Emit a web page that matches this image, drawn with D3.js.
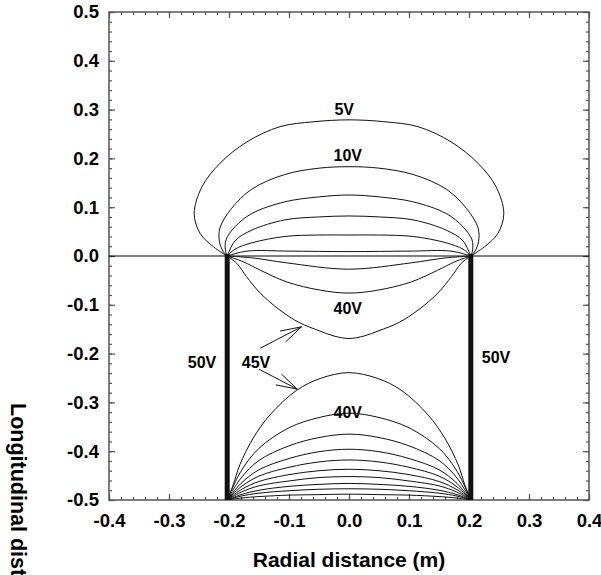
<!DOCTYPE html>
<html>
<head>
<meta charset="utf-8">
<script src="https://cdn.jsdelivr.net/npm/d3@7"></script>
<style>
    body { margin: 0; background: #fff; }
    text { font-family: "Liberation Sans", Arial, sans-serif; font-weight: bold; fill: #000; }
</style>
</head>
<body>
<div id="chart"></div>
<script>
// tick values
const xTicks = [-0.4, -0.3, -0.2, -0.1, 0.0, 0.1, 0.2, 0.3, 0.4]
const yTicks = [-0.5, -0.4, -0.3, -0.2, -0.1, 0.0, 0.1, 0.2, 0.3, 0.4, 0.5]
const minorStep = 0.02

// electrode (50V) radial position, runs from y = 0 down to y = -0.5
const electrodeX = 0.203
const electrodeTop = 0.0
const electrodeBottom = -0.5

// equipotential lines, right half only [x, y] (left half is the mirror image)
// above the electrode mouth
const upper5 = [[0, 0.279], [0.06, 0.275], [0.115, 0.265], [0.17, 0.234], [0.215, 0.19], [0.245, 0.142], [0.258, 0.087], [0.248, 0.046], [0.226, 0.019], [0.203, 0]]
const upper10 = [[0, 0.183], [0.05, 0.18], [0.107, 0.167], [0.162, 0.137], [0.196, 0.097], [0.215, 0.058], [0.216, 0.03], [0.21, 0.01], [0.203, 0]]
const upper15 = [[0, 0.125], [0.051, 0.121], [0.107, 0.111], [0.162, 0.087], [0.19, 0.06], [0.205, 0.033], [0.206, 0.012], [0.203, 0]]
const upper20 = [[0, 0.082], [0.051, 0.08], [0.107, 0.074], [0.162, 0.053], [0.19, 0.031], [0.203, 0]]
const upper25 = [[0, 0.043], [0.051, 0.043], [0.107, 0.04], [0.162, 0.027], [0.19, 0.014], [0.203, 0]]
const upper30 = [[0, 0.009], [0.1, 0.01], [0.17, 0.01], [0.203, 0]]
// inside, near the mouth
const inner35 = [[0, -0.027], [0.104, -0.014], [0.16, -0.004], [0.203, 0]]
const inner40 = [[0, -0.076], [0.048, -0.07], [0.104, -0.053], [0.148, -0.029], [0.176, -0.012], [0.203, 0]]
const inner45 = [[0, -0.169], [0.025, -0.164], [0.05, -0.153], [0.082, -0.137], [0.115, -0.111], [0.148, -0.076], [0.171, -0.042], [0.187, -0.015], [0.203, 0]]
// inside, near the bottom
const lower45 = [[0, -0.239], [0.048, -0.251], [0.087, -0.275], [0.132, -0.326], [0.16, -0.374], [0.182, -0.428], [0.193, -0.469], [0.203, -0.5]]
const lower40 = [[0, -0.322], [0.05, -0.331], [0.1, -0.352], [0.15, -0.394], [0.18, -0.441], [0.203, -0.5]]
const lower35 = [[0, -0.365], [0.05, -0.372], [0.1, -0.389], [0.15, -0.419], [0.18, -0.455], [0.203, -0.5]]
const lower30 = [[0, -0.396], [0.05, -0.401], [0.1, -0.415], [0.15, -0.438], [0.18, -0.466], [0.203, -0.5]]
const lower25 = [[0, -0.418], [0.05, -0.422], [0.1, -0.433], [0.15, -0.451], [0.18, -0.473], [0.203, -0.5]]
const lower20 = [[0, -0.437], [0.05, -0.44], [0.1, -0.448], [0.15, -0.462], [0.18, -0.479], [0.203, -0.5]]
const lower15 = [[0, -0.452], [0.05, -0.454], [0.1, -0.461], [0.15, -0.471], [0.18, -0.484], [0.203, -0.5]]
const lower10 = [[0, -0.466], [0.05, -0.468], [0.1, -0.472], [0.15, -0.48], [0.18, -0.489], [0.203, -0.5]]
const lower5 = [[0, -0.477], [0.05, -0.478], [0.1, -0.481], [0.15, -0.486], [0.18, -0.492], [0.203, -0.5]]
const lower0 = [[0, -0.488], [0.05, -0.489], [0.1, -0.49], [0.15, -0.493], [0.18, -0.496], [0.203, -0.5]]

const contours = [upper5, upper10, upper15, upper20, upper25, upper30, inner35, inner40, inner45,
    lower45, lower40, lower35, lower30, lower25, lower20, lower15, lower10, lower5, lower0]

// text labels [label, x, y]
const labels = [
    ['5V', -0.008, 0.3],
    ['10V', -0.002, 0.206],
    ['40V', -0.002, -0.107],
    ['40V', -0.002, -0.32],
    ['45V', -0.155, -0.217],
    ['50V', -0.245, -0.217],
    ['50V', 0.245, -0.207]
]

// arrows from the 45V label [fromX, fromY, toX, toY]
const arrows = [
    [-0.148, -0.189, -0.079, -0.145],
    [-0.15, -0.232, -0.086, -0.273]
]

const render = () => {
    const width = 601,
        height = 575,
        left = 109, right = 589, top = 12, bottom = 500;

    const svg = d3.select('#chart').append('svg')
        .attr('width', width)
        .attr('height', height)

    const x = d3.scaleLinear().domain([-0.4, 0.4]).range([left, right])
    const y = d3.scaleLinear().domain([-0.5, 0.5]).range([bottom, top])

    // plain hyphen for negatives, like the original
    const fmt = v => d3.format('.1f')(v).replace('\u2212', '-')
    const minorX = d3.range(-0.4, 0.4001, minorStep)
    const minorY = d3.range(-0.5, 0.5001, minorStep)

    // axes: ticks point inwards on all four sides
    const axisColor = '#555'
    const addAxis = (axis, tx, ty) => {
        const g = svg.append('g')
            .attr('transform', `translate(${tx},${ty})`)
            .call(axis)
        g.select('.domain').remove()
        g.selectAll('line').attr('stroke', axisColor).attr('stroke-width', 1.2)
        g.selectAll('text')
            .style('font-size', '18.5px')
            .style('font-family', '"Liberation Sans", Arial, sans-serif')
            .style('font-weight', 'bold')
            .attr('fill', '#000')
        return g
    }

    addAxis(d3.axisBottom(x).tickValues(minorX).tickSize(-3).tickFormat(''), 0, bottom)
    addAxis(d3.axisTop(x).tickValues(minorX).tickSize(-3).tickFormat(''), 0, top)
    addAxis(d3.axisLeft(y).tickValues(minorY).tickSize(-3).tickFormat(''), left, 0)
    addAxis(d3.axisRight(y).tickValues(minorY).tickSize(-3).tickFormat(''), right, 0)

    addAxis(d3.axisBottom(x).tickValues(xTicks).tickSize(-6).tickPadding(14).tickFormat(fmt), 0, bottom)
    addAxis(d3.axisTop(x).tickValues(xTicks).tickSize(-6).tickFormat(''), 0, top)
    addAxis(d3.axisLeft(y).tickValues(yTicks).tickSize(-6).tickPadding(10).tickFormat(fmt), left, 0)
    addAxis(d3.axisRight(y).tickValues(yTicks).tickSize(-6).tickFormat(''), right, 0)

    svg.append('rect')
        .attr('x', left)
        .attr('y', top)
        .attr('width', right - left)
        .attr('height', bottom - top)
        .attr('fill', 'none')
        .attr('stroke', axisColor)
        .attr('stroke-width', 1.5)

    // axis titles
    svg.append('text')
        .attr('x', (left + right) / 2)
        .attr('y', 567)
        .attr('text-anchor', 'middle')
        .style('font-size', '21px')
        .text('Radial distance (m)')

    svg.append('text')
        .attr('transform', 'translate(11,403) rotate(90)')
        .style('font-size', '21.5px')
        .text('Longitudinal distance (m)')

    svg.append('clipPath').attr('id', 'plot-clip')
        .append('rect')
        .attr('x', left).attr('y', top)
        .attr('width', right - left).attr('height', bottom - top)

    const plot = svg.append('g').attr('clip-path', 'url(#plot-clip)')

    // boundary line at y = 0
    plot.append('line')
        .attr('x1', x(-0.4)).attr('x2', x(0.4))
        .attr('y1', y(0)).attr('y2', y(0))
        .attr('stroke', '#000')
        .attr('stroke-width', 1)

    const line = d3.line()
        .x(d => x(d[0]))
        .y(d => y(d[1]))
        .curve(d3.curveCatmullRom.alpha(0.5))

    // mirror the right half to get the full line
    const fullLine = half => half.slice(1).reverse().map(([px, py]) => [-px, py]).concat(half)

    plot.selectAll('.contour')
        .data(contours)
        .enter().append('path')
        .attr('class', 'contour')
        .attr('d', d => line(fullLine(d)))
        .attr('fill', 'none')
        .attr('stroke', '#111')
        .attr('stroke-width', 1)

    // electrodes
    plot.selectAll('.electrode')
        .data([-electrodeX, electrodeX])
        .enter().append('line')
        .attr('class', 'electrode')
        .attr('x1', d => x(d)).attr('x2', d => x(d))
        .attr('y1', y(electrodeTop) - 2).attr('y2', y(electrodeBottom))
        .attr('stroke', '#111')
        .attr('stroke-width', 5)

    // labels
    svg.selectAll('.clabel')
        .data(labels)
        .enter().append('text')
        .attr('class', 'clabel')
        .attr('x', d => x(d[1]))
        .attr('y', d => y(d[2]))
        .attr('dy', '0.36em')
        .attr('text-anchor', 'middle')
        .style('font-size', '16px')
        .text(d => d[0])

    // open arrow heads
    const barb = 22, spread = 16 * Math.PI / 180
    arrows.forEach(([x0, y0, x1, y1]) => {
        const ax = x(x0), ay = y(y0), bx = x(x1), by = y(y1)
        const ang = Math.atan2(ay - by, ax - bx)
        const p1 = [bx + barb * Math.cos(ang - spread), by + barb * Math.sin(ang - spread)]
        const p2 = [bx + barb * Math.cos(ang + spread), by + barb * Math.sin(ang + spread)]
        svg.append('path')
            .attr('d', `M${ax},${ay}L${bx},${by}M${p1[0]},${p1[1]}L${bx},${by}L${p2[0]},${p2[1]}`)
            .attr('fill', 'none')
            .attr('stroke', '#111')
            .attr('stroke-width', 1)
    })
}

render()
</script>
</body>
</html>
